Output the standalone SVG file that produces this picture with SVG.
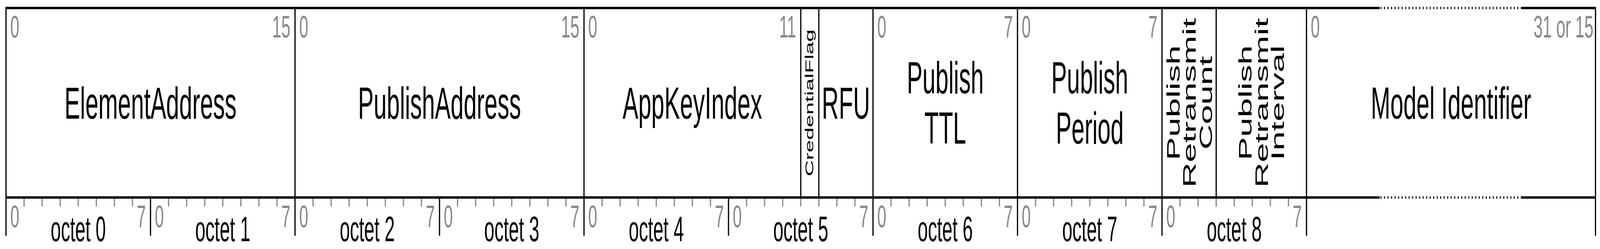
<svg xmlns="http://www.w3.org/2000/svg" width="7844" height="638" viewBox="0 0 7844 638" preserveAspectRatio="none">
<style>
svg{width:100vw;height:100vh}
.ln{stroke:#000;stroke-width:6;fill:none;stroke-linejoin:round}
.dot{stroke:#000;stroke-width:6;fill:none;stroke-dasharray:5 12.2}
.tk{stroke:#888;stroke-width:6;fill:none}
text{font-family:"Liberation Sans",Arial,Helvetica,sans-serif}
.n{font-size:80px;fill:#888}
.e{text-anchor:end}
.l{font-size:115px;fill:#000;text-anchor:middle}
.o{font-size:90px;fill:#000;text-anchor:middle}
.v{font-size:90px;fill:#000;text-anchor:middle}
.cf{font-size:58px;fill:#000;text-anchor:middle}
</style>
<rect width="7844" height="638" fill="#fff"/>
<g id="grid">
<path class="tk" d="M118.05,506V529M206.6,506V529M295.15,506V529M383.7,506V529M472.25,506V529M560.8,506V529M649.35,506V529M826.45,506V529M915,506V529M1003.55,506V529M1092.1,506V529M1180.65,506V529M1269.2,506V529M1357.75,506V529M1534.85,506V529M1623.4,506V529M1711.95,506V529M1800.5,506V529M1889.05,506V529M1977.6,506V529M2066.15,506V529M2243.25,506V529M2331.8,506V529M2420.35,506V529M2508.9,506V529M2597.45,506V529M2686,506V529M2774.55,506V529M2951.65,506V529M3040.2,506V529M3128.75,506V529M3217.3,506V529M3305.85,506V529M3394.4,506V529M3482.95,506V529M3660.05,506V529M3748.6,506V529M3837.15,506V529M3925.7,506V529M4014.25,506V529M4102.8,506V529M4191.35,506V529M4368.45,506V529M4457,506V529M4545.55,506V529M4634.1,506V529M4722.65,506V529M4811.2,506V529M4899.75,506V529M5076.85,506V529M5165.4,506V529M5253.95,506V529M5342.5,506V529M5431.05,506V529M5519.6,506V529M5608.15,506V529M5785.25,506V529M5873.8,506V529M5962.35,506V529M6050.9,506V529M6139.45,506V529M6228,506V529M6316.55,506V529"/>
<path class="ln" d="M29.5,604V20.5H6764M7461,20.5H7821.9V604"/>
<path class="dot" d="M6768,20.5H7466"/>
<path class="ln" d="M29.5,506H6764M7461,506H7821.9"/>
<path class="dot" d="M6768,506H7466"/>
<path class="ln" d="M1446.3,20.5V604M2863.1,20.5V604M4279.9,20.5V604M4988.3,20.5V604M5696.7,20.5V604M6405.1,20.5V604"/>
<path class="ln" d="M3925.7,20.5V506M4014.25,20.5V506M5962.35,20.5V506"/>
<path class="ln" d="M737.9,506V604M2154.7,506V604M3571.5,506V604"/>
</g>
<g id="field-ElementAddress">
<text class="n" x="50.2" y="96.5">0</text>
<text class="n e" x="1423.6" y="96.5">15</text>
<text class="l" x="737.9" y="304.5">ElementAddress</text>
</g>
<g id="field-PublishAddress">
<text class="n" x="1467" y="96.5">0</text>
<text class="n e" x="2840.4" y="96.5">15</text>
<text class="l" x="2154.7" y="304.5">PublishAddress</text>
</g>
<g id="field-AppKeyIndex">
<text class="n" x="2883.8" y="96.5">0</text>
<text class="n e" x="3903" y="96.5">11</text>
<text class="l" x="3394.4" y="304.5">AppKeyIndex</text>
</g>
<g id="field-CredentialFlag">
<text class="cf" transform="translate(3970,263.5) rotate(-90)" x="0" y="17">CredentialFlag</text>
</g>
<g id="field-RFU">
<text class="l" x="4147.1" y="304.5">RFU</text>
</g>
<g id="field-PublishTTL">
<text class="n" x="4300.6" y="96.5">0</text>
<text class="n e" x="4965.6" y="96.5">7</text>
<text class="l" x="4634.1" y="239.5">Publish</text>
<text class="l" x="4634.1" y="368">TTL</text>
</g>
<g id="field-PublishPeriod">
<text class="n" x="5009" y="96.5">0</text>
<text class="n e" x="5674" y="96.5">7</text>
<text class="l" x="5342.5" y="239.5">Publish</text>
<text class="l" x="5342.5" y="368">Period</text>
</g>
<g id="field-PublishRetransmitCount">
<text class="v" transform="translate(5829.5,263.5) rotate(-90)"><tspan x="0" y="-46">Publish</tspan><tspan x="0" y="33">Retransmit</tspan><tspan x="0" y="112">Count</tspan></text>
</g>
<g id="field-PublishRetransmitInterval">
<text class="v" transform="translate(6183.7,263.5) rotate(-90)"><tspan x="0" y="-47">Publish</tspan><tspan x="0" y="32">Retransmit</tspan><tspan x="0" y="111">Interval</tspan></text>
</g>
<g id="field-ModelIdentifier">
<text class="n" x="6425.8" y="96.5">0</text>
<text class="n e" x="7812" y="96.5">31 or 15</text>
<text class="l" x="7113.5" y="304.5">Model Identifier</text>
</g>
<g id="octets">
<text class="n" x="50.2" y="582">0</text><text class="n e" x="715.2" y="582">7</text><text class="o" x="383.7" y="618">octet 0</text>
<text class="n" x="758.6" y="582">0</text><text class="n e" x="1423.6" y="582">7</text><text class="o" x="1092.1" y="618">octet 1</text>
<text class="n" x="1467" y="582">0</text><text class="n e" x="2132" y="582">7</text><text class="o" x="1800.5" y="618">octet 2</text>
<text class="n" x="2175.4" y="582">0</text><text class="n e" x="2840.4" y="582">7</text><text class="o" x="2508.9" y="618">octet 3</text>
<text class="n" x="2883.8" y="582">0</text><text class="n e" x="3548.8" y="582">7</text><text class="o" x="3217.3" y="618">octet 4</text>
<text class="n" x="3592.2" y="582">0</text><text class="n e" x="4257.2" y="582">7</text><text class="o" x="3925.7" y="618">octet 5</text>
<text class="n" x="4300.6" y="582">0</text><text class="n e" x="4965.6" y="582">7</text><text class="o" x="4634.1" y="618">octet 6</text>
<text class="n" x="5009" y="582">0</text><text class="n e" x="5674" y="582">7</text><text class="o" x="5342.5" y="618">octet 7</text>
<text class="n" x="5717.4" y="582">0</text><text class="n e" x="6382.4" y="582">7</text><text class="o" x="6050.9" y="618">octet 8</text>
</g>
</svg>
